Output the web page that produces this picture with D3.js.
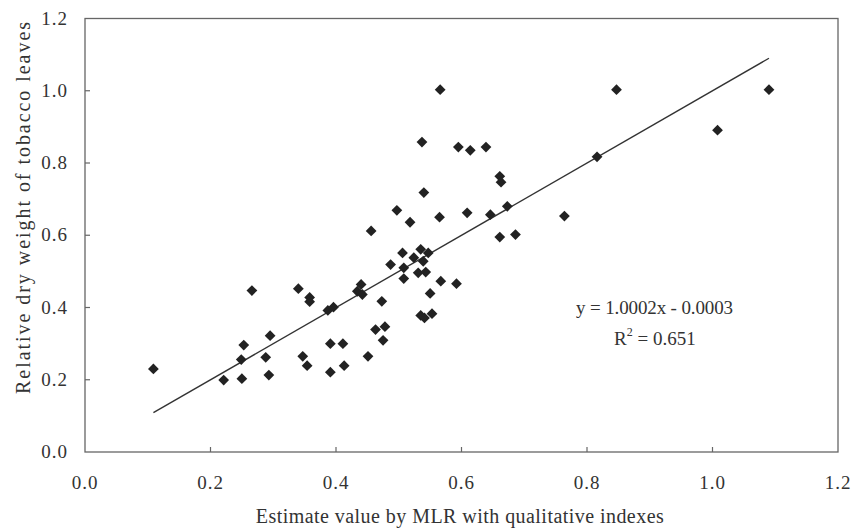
<!DOCTYPE html>
<html>
<head>
<meta charset="utf-8">
<script src="https://cdn.jsdelivr.net/npm/d3@7/dist/d3.min.js"></script>
<style>
  html, body { margin: 0; padding: 0; background: #fff; }
  svg { display: block; }
</style>
</head>
<body>
<svg id="chart" width="851" height="528"></svg>
<script>
// Estimated values (x: MLR estimate, y: relative dry weight)
const xValues = [
  0.109, 0.266, 0.340, 0.358, 0.358, 0.387, 0.396, 0.253, 0.295, 0.249,
  0.288, 0.221, 0.250, 0.293, 0.347, 0.354, 0.391, 0.411, 0.391, 0.413,
  0.456, 0.661, 0.686, 0.506, 0.535, 0.547, 0.524, 0.539, 0.487, 0.508,
  0.508, 0.531, 0.543, 0.567, 0.592, 0.550, 0.440, 0.434, 0.442, 0.473,
  0.535, 0.541, 0.553, 0.463, 0.478, 0.475, 0.451, 0.566, 0.847, 1.090,
  1.008, 0.537, 0.595, 0.614, 0.639, 0.816, 0.661, 0.663, 0.540, 0.497,
  0.518, 0.565, 0.609, 0.646, 0.673, 0.764
];
const yValues = [
  0.230, 0.447, 0.452, 0.428, 0.416, 0.392, 0.401, 0.296, 0.322, 0.256,
  0.262, 0.199, 0.203, 0.213, 0.265, 0.239, 0.300, 0.300, 0.221, 0.239,
  0.612, 0.595, 0.602, 0.551, 0.561, 0.551, 0.538, 0.528, 0.519, 0.510,
  0.480, 0.496, 0.498, 0.473, 0.466, 0.439, 0.464, 0.445, 0.436, 0.417,
  0.378, 0.371, 0.383, 0.339, 0.347, 0.309, 0.265, 1.003, 1.003, 1.003,
  0.891, 0.858, 0.844, 0.835, 0.844, 0.817, 0.763, 0.747, 0.718, 0.669,
  0.636, 0.650, 0.662, 0.657, 0.680, 0.653
];
const xTicks = [0.0, 0.2, 0.4, 0.6, 0.8, 1.0, 1.2];
const yTicks = [0.0, 0.2, 0.4, 0.6, 0.8, 1.0, 1.2];
const slope = 1.0002, intercept = -0.0003;
const equationText = "y = 1.0002x - 0.0003";
const r2Value = "0.651";
const xTitle = "Estimate value by MLR with qualitative indexes";
const yTitle = "Relative dry weight of tobacco leaves";

const points = xValues.map((x, i) => ({x, y: yValues[i]}));
const fmt = d3.format(".1f");

const svg = d3.select("#chart");
const L = 85, R = 838, T = 18.5, B = 452;
const x = d3.scaleLinear().domain([0, 1.2]).range([L, R]);
const y = d3.scaleLinear().domain([0, 1.2]).range([B, T]);

function txt(sel, size) {
  return sel.attr("font-family", "Liberation Serif").attr("font-size", size).attr("fill", "#333");
}
function fitWidth(sel, target) {
  const n = sel.text().length;
  const len = sel.node().getComputedTextLength();
  sel.attr("letter-spacing", (target - len) / (n - 1));
  return sel;
}

// frame
svg.append("rect")
  .attr("x", L).attr("y", T).attr("width", R - L).attr("height", B - T)
  .attr("fill", "none").attr("stroke", "#666").attr("stroke-width", 1.3);

// x ticks and labels
const gx = svg.append("g");
gx.selectAll("line").data(xTicks.slice(1, -1)).join("line")
  .attr("x1", d => x(d)).attr("x2", d => x(d)).attr("y1", B).attr("y2", B - 5)
  .attr("stroke", "#666").attr("stroke-width", 1.2);
txt(gx.selectAll("text").data(xTicks).join("text"), 19)
  .attr("x", d => x(d)).attr("y", 489).attr("text-anchor", "middle")
  .attr("letter-spacing", 1).text(d => fmt(d));

// y ticks and labels
const gy = svg.append("g");
gy.selectAll("line").data(yTicks.slice(1, -1)).join("line")
  .attr("x1", L).attr("x2", L + 5).attr("y1", d => y(d)).attr("y2", d => y(d))
  .attr("stroke", "#666").attr("stroke-width", 1.2);
txt(gy.selectAll("text").data(yTicks).join("text"), 19)
  .attr("x", 68).attr("y", d => y(d) + 6).attr("text-anchor", "end")
  .attr("letter-spacing", 1).text(d => fmt(d));

// regression line
const ext = d3.extent(xValues);
const line = d3.line().x(d => x(d)).y(d => y(slope * d + intercept));
svg.append("path").datum(ext).attr("d", line)
  .attr("fill", "none").attr("stroke", "#333").attr("stroke-width", 1.4);

// points (diamonds)
svg.append("g").selectAll("path").data(points).join("path")
  .attr("transform", d => `translate(${x(d.x)},${y(d.y)}) rotate(45)`)
  .attr("d", d3.symbol().type(d3.symbolSquare).size(58))
  .attr("fill", "#222");

// equation
const eq = txt(svg.append("text"), 19).attr("x", 576).attr("y", 314).text(equationText);
fitWidth(eq, 157);
const r2 = txt(svg.append("text"), 19).attr("x", 614).attr("y", 345);
r2.append("tspan").text("R");
r2.append("tspan").attr("dy", -9).attr("font-size", 12).text("2");
r2.append("tspan").attr("dy", 9).text(" = " + r2Value);

// axis titles
const xt = txt(svg.append("text"), 20).attr("x", 460).attr("y", 523).attr("text-anchor", "middle").text(xTitle);
fitWidth(xt, 408);
const yt = txt(svg.append("text"), 20).attr("transform", "translate(30,207) rotate(-90)")
  .attr("text-anchor", "middle").text(yTitle);
fitWidth(yt, 372);
</script>
</body>
</html>
